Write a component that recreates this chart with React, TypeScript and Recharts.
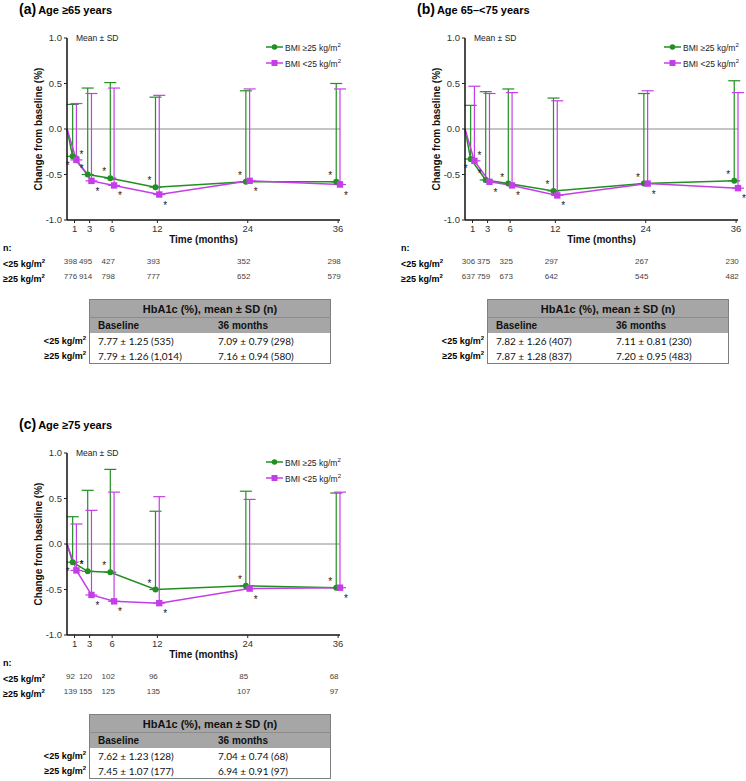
import React from "react";
import {
  ErrorBar,
  Label,
  LabelList,
  Legend,
  Line,
  LineChart,
  ReferenceLine,
  XAxis,
  YAxis,
} from "recharts";

const months = [1, 3, 6, 12, 24, 36];
const yTicks = [-1, -0.5, 0, 0.5, 1];

// (a) Age >=65 years
const aHighMean = [-0.3, -0.5, -0.54, -0.64, -0.58, -0.58];
const aHighSd = [0.57, 0.95, 1.05, 0.99, 1.0, 1.08];
const aLowMean = [-0.34, -0.57, -0.62, -0.72, -0.57, -0.61];
const aLowSd = [0.62, 0.96, 1.07, 1.09, 1.01, 1.05];
const aNLow = [398, 495, 427, 393, 352, 298];
const aNHigh = [776, 914, 798, 777, 652, 579];
const aTableLow = ["7.77 ± 1.25 (535)", "7.09 ± 0.79 (298)"];
const aTableHigh = ["7.79 ± 1.26 (1,014)", "7.16 ± 0.94 (580)"];

// (b) Age 65–<75 years
const bHighMean = [-0.33, -0.56, -0.6, -0.68, -0.6, -0.57];
const bHighSd = [0.59, 0.97, 1.04, 1.02, 0.99, 1.1];
const bLowMean = [-0.35, -0.58, -0.62, -0.73, -0.6, -0.65];
const bLowSd = [0.82, 0.97, 1.02, 1.04, 1.02, 1.05];
const bNLow = [306, 375, 325, 297, 267, 230];
const bNHigh = [637, 759, 673, 642, 545, 482];
const bTableLow = ["7.82 ± 1.26 (407)", "7.11 ± 0.81 (230)"];
const bTableHigh = ["7.87 ± 1.28 (837)", "7.20 ± 0.95 (483)"];

// (c) Age >=75 years
const cHighMean = [-0.2, -0.3, -0.31, -0.5, -0.46, -0.48];
const cHighSd = [0.5, 0.89, 1.13, 0.86, 1.04, 1.04];
const cLowMean = [-0.29, -0.56, -0.63, -0.65, -0.49, -0.48];
const cLowSd = [0.51, 0.93, 1.2, 1.17, 0.98, 1.05];
const cNLow = [92, 120, 102, 96, 85, 68];
const cNHigh = [139, 155, 125, 135, 107, 97];
const cTableLow = ["7.62 ± 1.23 (128)", "7.04 ± 0.74 (68)"];
const cTableHigh = ["7.45 ± 1.07 (177)", "6.94 ± 0.91 (97)"];

const GREEN = "#228f22";
const PURPLE = "#c43ee8";
const FONT = "'Liberation Sans', Arial, sans-serif";

type Pt = { t: number; v: number; err?: [number, number] };

// baseline point at 0, then the visits nudged sideways so the bars don't overlap
function series(means: number[], sds: number[], shift: number): Pt[] {
  return [
    { t: 0, v: 0 },
    ...months.map((m, i) => ({ t: m + shift, v: means[i], err: [0, sds[i]] as [number, number] })),
  ];
}

function MonthTick(props: any) {
  const { x, y, payload, nLow, nHigh } = props;
  const i = months.indexOf(payload.value);
  const nStyle = { fontSize: 8, fill: "#444", fontFamily: "'Liberation Sans Narrow', " + FONT };
  return (
    <g>
      <text x={x} y={y} dy="0.72em" textAnchor="middle" fontSize={9.5} fill="#333" fontFamily={FONT}>
        {payload.value}
      </text>
      <text x={x - 4} y={y + 39} textAnchor="middle" {...nStyle}>
        {nLow[i]}
      </text>
      <text x={x - 4} y={y + 54} textAnchor="middle" {...nStyle}>
        {nHigh[i]}
      </text>
    </g>
  );
}

// significance marks; at month 1 the two are flipped (as in the figure) so they don't collide
function Star(dx: number, dy: number, firstDx: number, firstDy: number) {
  return (props: any) => {
    const { x, y, index } = props;
    if (index === 0) return null;
    const ox = index === 1 ? firstDx : dx;
    const oy = index === 1 ? firstDy : dy;
    return (
      <text x={x + ox} y={y + oy} textAnchor="middle" fontSize={10} fill="#222" fontFamily={FONT}>
        *
      </text>
    );
  };
}

function GreenDot(props: any) {
  const { cx, cy, index } = props;
  if (index === 0) return <g key={`g${index}`} />;
  return <circle key={`g${index}`} cx={cx} cy={cy} r={3} fill={GREEN} />;
}

function PurpleDot(props: any) {
  const { cx, cy, index } = props;
  if (index === 0) return <g key={`p${index}`} />;
  return <rect key={`p${index}`} x={cx - 3.2} y={cy - 3.2} width={6.4} height={6.4} fill={PURPLE} />;
}

function BmiLegend() {
  const items = [
    { pre: "BMI ≥25 kg/m", color: GREEN, circle: true },
    { pre: "BMI <25 kg/m", color: PURPLE, circle: false },
  ];
  return (
    <div style={{ fontFamily: FONT, fontSize: 8.5, color: "#222" }}>
      {items.map((it) => (
        <div key={it.pre} style={{ display: "flex", alignItems: "center", height: 16 }}>
          <svg width={17} height={8} style={{ marginRight: 2 }}>
            <line x1={0} y1={4} x2={17} y2={4} stroke={it.color} strokeWidth={1.5} />
            {it.circle ? (
              <circle cx={8.5} cy={4} r={2.8} fill={it.color} />
            ) : (
              <rect x={5.5} y={1} width={6} height={6} fill={it.color} />
            )}
          </svg>
          <span>
            {it.pre}
            <sup style={{ fontSize: 6 }}>2</sup>
          </span>
        </div>
      ))}
    </div>
  );
}

function Kg({ sign }: { sign: string }) {
  return (
    <span>
      {sign}25 kg/m<sup style={{ fontSize: 6 }}>2</sup>
    </span>
  );
}

function SummaryTable({ low, high }: { low: string[]; high: string[] }) {
  const cell = { width: 113, height: 15, padding: "0 0 0 8px" } as React.CSSProperties;
  const lab = {
    position: "absolute",
    right: 245,
    fontWeight: "bold",
    fontSize: 9,
    whiteSpace: "nowrap",
    fontFamily: FONT,
  } as React.CSSProperties;
  return (
    <div style={{ position: "absolute", left: 89, top: 299, width: 242 }}>
      <div style={{ ...lab, top: 36 }}>
        <Kg sign="<" />
      </div>
      <div style={{ ...lab, top: 51 }}>
        <Kg sign="≥" />
      </div>
      <table
        style={{
          borderCollapse: "collapse",
          width: 242,
          border: "1px solid #7f7f7f",
          fontFamily: FONT,
          color: "#111",
        }}
      >
        <tbody>
          <tr style={{ background: "#a6a6a6" }}>
            <td
              colSpan={2}
              style={{
                textAlign: "center",
                fontWeight: "bold",
                fontSize: 11,
                height: 17,
                padding: 0,
                borderBottom: "1px solid #8c8c8c",
              }}
            >
              HbA1c (%), mean ± SD (n)
            </td>
          </tr>
          <tr style={{ background: "#a6a6a6", fontWeight: "bold", fontSize: 10 }}>
            <td style={cell}>Baseline</td>
            <td style={cell}>36 months</td>
          </tr>
          <tr style={{ fontFamily: "Lato, " + FONT, fontSize: 10 }}>
            <td style={cell}>{low[0]}</td>
            <td style={cell}>{low[1]}</td>
          </tr>
          <tr style={{ fontFamily: "Lato, " + FONT, fontSize: 10 }}>
            <td style={cell}>{high[0]}</td>
            <td style={cell}>{high[1]}</td>
          </tr>
        </tbody>
      </table>
    </div>
  );
}

type PanelProps = {
  left: number;
  top: number;
  letter: string;
  title: string;
  highMean: number[];
  highSd: number[];
  lowMean: number[];
  lowSd: number[];
  nLow: number[];
  nHigh: number[];
  tableLow: string[];
  tableHigh: string[];
};

function Panel(p: PanelProps) {
  const high = series(p.highMean, p.highSd, -0.25);
  const low = series(p.lowMean, p.lowSd, 0.25);
  const rowLabel = {
    position: "absolute",
    left: 3,
    fontWeight: "bold",
    fontSize: 9,
    lineHeight: "12px",
    fontFamily: FONT,
  } as React.CSSProperties;
  return (
    <div style={{ position: "absolute", left: p.left, top: p.top, width: 360, height: 370 }}>
      <div style={{ position: "absolute", left: 19, top: 0, fontFamily: FONT, fontWeight: "bold", whiteSpace: "nowrap" }}>
        <span style={{ fontSize: 14 }}>({p.letter})</span>
        <span style={{ fontSize: 11, marginLeft: 2 }}>{p.title}</span>
      </div>
      <div style={{ position: "absolute", left: 76, top: 33, fontFamily: FONT, fontSize: 8.5, color: "#222" }}>
        Mean ± SD
      </div>
      <LineChart
        width={360}
        height={290}
        margin={{ top: 38, right: 20, bottom: 0, left: 27 }}
        style={{ position: "absolute", left: 0, top: 0 }}
      >
        <XAxis
          type="number"
          dataKey="t"
          domain={[0, 36]}
          ticks={months}
          interval={0}
          height={70}
          tickSize={3}
          tickMargin={2}
          tickLine={{ stroke: "#222" }}
          axisLine={{ stroke: "#111", strokeWidth: 1.5 }}
          tick={(tp: any) => <MonthTick {...tp} nLow={p.nLow} nHigh={p.nHigh} />}
        >
          <Label
            value="Time (months)"
            position="insideTop"
            offset={16}
            style={{ fontWeight: "bold", fontSize: 10, fill: "#111", fontFamily: FONT }}
          />
        </XAxis>
        <YAxis
          type="number"
          domain={[-1, 1]}
          ticks={yTicks}
          width={40}
          tickSize={3}
          tickMargin={2}
          tickFormatter={(v: number) => v.toFixed(1)}
          tick={{ fontSize: 9.5, fill: "#333", fontFamily: FONT }}
          tickLine={{ stroke: "#222" }}
          axisLine={{ stroke: "#111", strokeWidth: 1.5 }}
        >
          <Label
            value="Change from baseline  (%)"
            angle={-90}
            position="insideLeft"
            offset={11}
            style={{ textAnchor: "middle", fontWeight: "bold", fontSize: 10, fill: "#111", fontFamily: FONT }}
          />
        </YAxis>
        <ReferenceLine y={0} stroke="#8a8a8a" strokeWidth={1} />
        <Line
          data={high}
          dataKey="v"
          name="BMI ≥25 kg/m²"
          type="linear"
          stroke={GREEN}
          strokeWidth={1.5}
          dot={GreenDot}
          activeDot={false}
          isAnimationActive={false}
        >
          <ErrorBar dataKey="err" direction="y" width={6} stroke={GREEN} strokeWidth={1.2} />
          <LabelList dataKey="v" content={Star(-6, -3, -5, 13)} />
        </Line>
        <Line
          data={low}
          dataKey="v"
          name="BMI <25 kg/m²"
          type="linear"
          stroke={PURPLE}
          strokeWidth={1.5}
          dot={PurpleDot}
          activeDot={false}
          isAnimationActive={false}
        >
          <ErrorBar dataKey="err" direction="y" width={6} stroke={PURPLE} strokeWidth={1.2} />
          <LabelList dataKey="v" content={Star(6, 14, 5, -2)} />
        </Line>
        <Legend
          layout="horizontal"
          verticalAlign="middle"
          align="center"
          content={() => <BmiLegend />}
          wrapperStyle={{ left: 266, top: 39, width: 100, height: 32 }}
        />
      </LineChart>
      <div style={{ ...rowLabel, top: 242 }}>n:</div>
      <div style={{ ...rowLabel, top: 255 }}>
        <Kg sign="<" />
      </div>
      <div style={{ ...rowLabel, top: 270 }}>
        <Kg sign="≥" />
      </div>
      <SummaryTable low={p.tableLow} high={p.tableHigh} />
    </div>
  );
}

export default function App() {
  return (
    <div style={{ position: "absolute", left: 0, top: 0, width: 746, height: 781, background: "#fff" }}>
      <Panel
        left={0}
        top={0}
        letter="a"
        title="Age ≥65 years"
        highMean={aHighMean}
        highSd={aHighSd}
        lowMean={aLowMean}
        lowSd={aLowSd}
        nLow={aNLow}
        nHigh={aNHigh}
        tableLow={aTableLow}
        tableHigh={aTableHigh}
      />
      <Panel
        left={398}
        top={0}
        letter="b"
        title="Age 65–<75 years"
        highMean={bHighMean}
        highSd={bHighSd}
        lowMean={bLowMean}
        lowSd={bLowSd}
        nLow={bNLow}
        nHigh={bNHigh}
        tableLow={bTableLow}
        tableHigh={bTableHigh}
      />
      <Panel
        left={0}
        top={415}
        letter="c"
        title="Age ≥75 years"
        highMean={cHighMean}
        highSd={cHighSd}
        lowMean={cLowMean}
        lowSd={cLowSd}
        nLow={cNLow}
        nHigh={cNHigh}
        tableLow={cTableLow}
        tableHigh={cTableHigh}
      />
    </div>
  );
}
